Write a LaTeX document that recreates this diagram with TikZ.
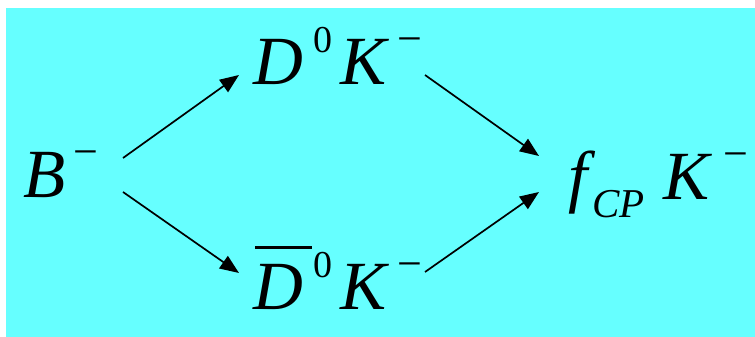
\documentclass[tikz,border=0pt]{standalone}
\usepackage{fontspec}
\setmainfont{Liberation Serif}
\usetikzlibrary{arrows.meta}
\definecolor{bgcyan}{HTML}{66FFFF}
\newcommand\supx[1]{\raisebox{32pt}{\fontsize{38}{38}\selectfont\upshape #1}}
\newcommand\supm{\raisebox{31pt}{\fontsize{44}{44}\selectfont\upshape −}}
\newcommand\subx[1]{\raisebox{-18pt}{\fontsize{41}{41}\selectfont\itshape #1}}
\newcommand\ovbar{\rlap{\kern2pt\raisebox{61pt}{\rule{57pt}{3pt}}}}
\begin{document}
\begin{tikzpicture}[x=1pt,y=1pt,
  lbl/.style={inner sep=0pt,anchor=base west,font=\fontsize{69}{69}\selectfont\itshape},
  arr/.style={line width=1.7pt,-{Triangle[length=19pt,width=15pt]}}]
\useasboundingbox (0,0) rectangle (755,337);
\fill[bgcyan] (6,0) rectangle (755,329);
\node[lbl] (b) at (23,139) {B\kern8pt\supm};
\node[lbl] (d) at (253,252) {D\kern10pt\supx{0}\kern8pt K\kern11pt\supm};
\node[lbl] (db) at (253,27) {\ovbar D\kern10pt\supx{0}\kern8pt K\kern11pt\supm};
\node[lbl] (f) at (568,137) {f\kern5pt\subx{CP}\kern19pt K\kern14pt\supm};
\coordinate (b1) at (123,179);
\coordinate (b2) at (123,145);
\coordinate (d1) at (239,262);
\coordinate (db1) at (239,64);
\coordinate (d2) at (425,262);
\coordinate (db2) at (425,65);
\coordinate (f1) at (539,181);
\coordinate (f2) at (539,145);
\draw[arr] (b1) -- (d1);
\draw[arr] (b2) -- (db1);
\draw[arr] (d2) -- (f1);
\draw[arr] (db2) -- (f2);
\end{tikzpicture}
\end{document}
